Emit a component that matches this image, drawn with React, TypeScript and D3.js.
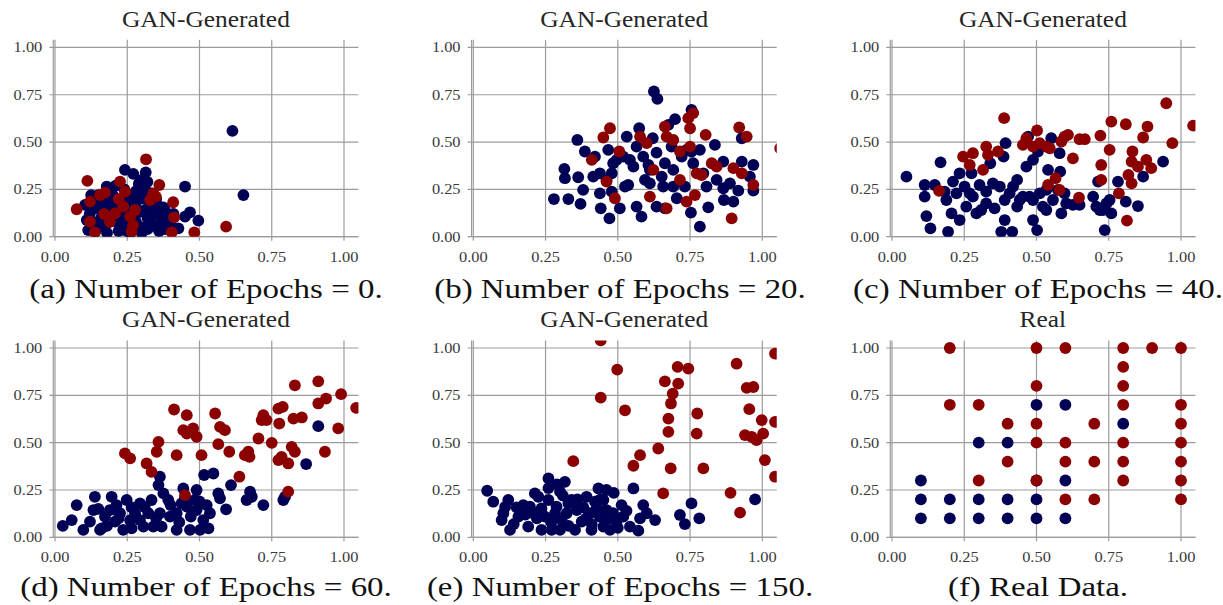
import React from "react";
import * as d3 from "d3";

const W = 1223;
const H = 605;

const titles = ["GAN-Generated", "GAN-Generated", "GAN-Generated", "GAN-Generated", "GAN-Generated", "Real"];
const captions = [
  "(a) Number of Epochs = 0.",
  "(b) Number of Epochs = 20.",
  "(c) Number of Epochs = 40.",
  "(d) Number of Epochs = 60.",
  "(e) Number of Epochs = 150.",
  "(f) Real Data.",
];
const tickValues = [0, 0.25, 0.5, 0.75, 1];
const tickLabels = ["0.00", "0.25", "0.50", "0.75", "1.00"];

type P = [number, number];

// (a) epochs = 0
const aNavy: P[] = [
  [0.614, 0.559], [0.652, 0.22], [0.496, 0.085], [0.467, 0.129], [0.45, 0.106], [0.45, 0.265], [0.427, 0.044],
  [0.375, 0.155], [0.314, 0.34], [0.271, 0.332], [0.242, 0.353], [0.294, 0.286], [0.104, 0.168], [0.11, 0.088],
  [0.115, 0.035], [0.179, 0.265], [0.13, 0.2], [0.14, 0.15], [0.15, 0.22], [0.16, 0.1], [0.17, 0.05], [0.18, 0.25],
  [0.19, 0.18], [0.2, 0.12], [0.21, 0.08], [0.22, 0.03], [0.2, 0.22], [0.23, 0.15], [0.24, 0.2], [0.25, 0.1],
  [0.26, 0.06], [0.27, 0.17], [0.28, 0.24], [0.29, 0.13], [0.3, 0.05], [0.31, 0.2], [0.32, 0.1], [0.33, 0.16],
  [0.34, 0.06], [0.35, 0.12], [0.36, 0.03], [0.37, 0.08], [0.38, 0.14], [0.39, 0.1], [0.29, 0.28], [0.3, 0.25],
  [0.3, 0.02], [0.26, 0.02], [0.18, 0.02], [0.15, 0.06], [0.12, 0.12], [0.17, 0.14], [0.22, 0.19], [0.26, 0.13],
  [0.28, 0.08], [0.32, 0.04], [0.35, 0.2], [0.4, 0.06], [0.41, 0.12], [0.24, 0.25], [0.21, 0.27], [0.19, 0.09],
  [0.23, 0.05], [0.27, 0.21], [0.33, 0.23], [0.36, 0.16], [0.38, 0.04], [0.3, 0.3], [0.31, 0.27], [0.14, 0.03],
  [0.125, 0.22], [0.16, 0.17], [0.16, 0.2], [0.2, 0.16], [0.22, 0.1], [0.25, 0.03], [0.27, 0.12], [0.28, 0.18],
  [0.31, 0.14], [0.33, 0.09], [0.34, 0.13], [0.37, 0.11], [0.18, 0.07], [0.24, 0.08], [0.29, 0.21], [0.19, 0.24],
  [0.13, 0.08], [0.32, 0.29],
];
const aRed: P[] = [
  [0.592, 0.053], [0.482, 0.023], [0.409, 0.182], [0.412, 0.102], [0.404, 0.023], [0.361, 0.273], [0.349, 0.212],
  [0.315, 0.409], [0.225, 0.291], [0.243, 0.238], [0.112, 0.295], [0.075, 0.145], [0.121, 0.185], [0.121, 0.079],
  [0.138, 0.023], [0.173, 0.233], [0.156, 0.22], [0.19, 0.079], [0.208, 0.123], [0.236, 0.159], [0.26, 0.106],
  [0.265, 0.026], [0.277, 0.141], [0.329, 0.194], [0.34, 0.229], [0.22, 0.2], [0.27, 0.06], [0.17, 0.12],
];

// (b) epochs = 20
const bNavy: P[] = [
  [0.279, 0.199], [0.329, 0.199], [0.315, 0.358], [0.317, 0.309], [0.363, 0.314], [0.36, 0.511], [0.371, 0.173],
  [0.38, 0.247], [0.386, 0.45], [0.421, 0.423], [0.441, 0.15], [0.471, 0.097], [0.438, 0.335], [0.461, 0.3],
  [0.479, 0.335], [0.467, 0.459], [0.484, 0.388], [0.438, 0.229], [0.479, 0.238], [0.507, 0.15], [0.531, 0.529],
  [0.542, 0.406], [0.536, 0.273], [0.554, 0.37], [0.565, 0.159], [0.574, 0.573], [0.582, 0.106], [0.588, 0.423],
  [0.594, 0.3], [0.606, 0.379], [0.611, 0.282], [0.621, 0.52], [0.625, 0.767], [0.637, 0.728], [0.634, 0.444],
  [0.634, 0.159], [0.663, 0.15], [0.652, 0.317], [0.663, 0.388], [0.675, 0.591], [0.698, 0.621], [0.686, 0.476],
  [0.692, 0.353], [0.692, 0.265], [0.704, 0.203], [0.721, 0.423], [0.732, 0.265], [0.755, 0.67], [0.755, 0.45],
  [0.753, 0.127], [0.784, 0.053], [0.784, 0.459], [0.796, 0.335], [0.807, 0.265], [0.813, 0.155], [0.836, 0.485],
  [0.842, 0.3], [0.865, 0.397], [0.867, 0.194], [0.888, 0.282], [0.9, 0.185], [0.917, 0.243], [0.929, 0.397],
  [0.929, 0.52], [0.957, 0.317], [0.969, 0.379], [0.969, 0.243], [0.415, 0.317], [0.519, 0.423], [0.565, 0.476],
  [0.611, 0.353], [0.657, 0.265], [0.738, 0.459], [0.761, 0.388], [0.865, 0.256], [0.525, 0.265], [0.496, 0.406],
];
const bRed: P[] = [
  [1.062, 0.467], [0.92, 0.577], [0.946, 0.529], [0.969, 0.273], [0.929, 0.335], [0.9, 0.362], [0.894, 0.097],
  [0.825, 0.388], [0.842, 0.37], [0.804, 0.538], [0.773, 0.335], [0.767, 0.22], [0.738, 0.185], [0.744, 0.626],
  [0.761, 0.653], [0.75, 0.573], [0.75, 0.476], [0.715, 0.45], [0.715, 0.3], [0.692, 0.511], [0.669, 0.529],
  [0.663, 0.582], [0.669, 0.15], [0.611, 0.212], [0.623, 0.353], [0.6, 0.494], [0.577, 0.529], [0.505, 0.45],
  [0.473, 0.573], [0.45, 0.524], [0.41, 0.406], [0.461, 0.291], [0.49, 0.203], [0.79, 0.326],
];

// (c) epochs = 40
const cNavy: P[] = [
  [0.05, 0.317], [0.113, 0.273], [0.113, 0.212], [0.119, 0.109], [0.133, 0.044], [0.148, 0.273], [0.168, 0.393],
  [0.182, 0.238], [0.188, 0.194], [0.194, 0.026], [0.206, 0.123], [0.211, 0.291], [0.223, 0.229], [0.234, 0.335],
  [0.234, 0.088], [0.251, 0.265], [0.257, 0.159], [0.275, 0.335], [0.28, 0.212], [0.292, 0.123], [0.303, 0.273],
  [0.309, 0.141], [0.326, 0.238], [0.34, 0.388], [0.349, 0.282], [0.355, 0.15], [0.373, 0.265], [0.378, 0.026],
  [0.386, 0.423], [0.39, 0.194], [0.393, 0.494], [0.39, 0.088], [0.416, 0.026], [0.419, 0.265], [0.433, 0.3],
  [0.433, 0.159], [0.453, 0.212], [0.465, 0.37], [0.471, 0.529], [0.476, 0.212], [0.488, 0.406], [0.488, 0.088],
  [0.505, 0.45], [0.502, 0.035], [0.511, 0.229], [0.522, 0.159], [0.534, 0.247], [0.54, 0.353], [0.551, 0.52],
  [0.557, 0.194], [0.58, 0.441], [0.582, 0.344], [0.586, 0.123], [0.597, 0.229], [0.603, 0.176], [0.626, 0.168],
  [0.649, 0.168], [0.696, 0.212], [0.713, 0.291], [0.719, 0.141], [0.736, 0.035], [0.742, 0.176], [0.753, 0.194],
  [0.759, 0.123], [0.782, 0.291], [0.809, 0.185], [0.851, 0.162], [0.869, 0.317], [0.938, 0.397], [0.269, 0.229],
  [0.326, 0.176], [0.407, 0.229], [0.442, 0.194], [0.488, 0.194], [0.534, 0.141], [0.574, 0.247], [0.707, 0.159],
  [0.73, 0.141],
];
const cRed: P[] = [
  [0.388, 0.626], [0.502, 0.561], [0.465, 0.52], [0.453, 0.485], [0.488, 0.476], [0.511, 0.494], [0.534, 0.476],
  [0.546, 0.467], [0.586, 0.503], [0.597, 0.529], [0.609, 0.538], [0.649, 0.515], [0.667, 0.515], [0.626, 0.414],
  [0.721, 0.534], [0.724, 0.379], [0.724, 0.3], [0.759, 0.608], [0.753, 0.459], [0.809, 0.594], [0.884, 0.582],
  [0.869, 0.524], [0.832, 0.45], [0.829, 0.397], [0.818, 0.326], [0.829, 0.282], [0.88, 0.406], [0.897, 0.362],
  [0.851, 0.37], [0.785, 0.229], [0.813, 0.085], [0.949, 0.705], [0.97, 0.494], [1.042, 0.587], [0.647, 0.206],
  [0.54, 0.273], [0.566, 0.309], [0.58, 0.247], [0.246, 0.423], [0.28, 0.441], [0.269, 0.379], [0.315, 0.353],
  [0.326, 0.476], [0.332, 0.432], [0.367, 0.45], [0.163, 0.242],
];

// (d) epochs = 60
const dNavy: P[] = [
  [0.911, 0.587], [0.869, 0.387], [0.79, 0.197], [0.796, 0.214], [0.721, 0.17], [0.675, 0.241], [0.681, 0.214],
  [0.663, 0.197], [0.609, 0.276], [0.592, 0.148], [0.571, 0.206], [0.565, 0.232], [0.548, 0.337], [0.516, 0.329],
  [0.536, 0.127], [0.531, 0.047], [0.513, 0.091], [0.49, 0.25], [0.49, 0.144], [0.484, 0.197], [0.467, 0.039],
  [0.444, 0.258], [0.438, 0.179], [0.421, 0.127], [0.421, 0.039], [0.392, 0.197], [0.375, 0.232], [0.363, 0.32],
  [0.358, 0.276], [0.363, 0.127], [0.369, 0.056], [0.334, 0.197], [0.323, 0.127], [0.306, 0.056], [0.294, 0.179],
  [0.277, 0.127], [0.265, 0.047], [0.248, 0.197], [0.236, 0.039], [0.208, 0.083], [0.196, 0.214], [0.19, 0.144],
  [0.173, 0.109], [0.161, 0.047], [0.138, 0.214], [0.133, 0.144], [0.121, 0.083], [0.098, 0.039], [0.075, 0.17],
  [0.058, 0.091], [0.027, 0.06], [0.156, 0.039], [0.225, 0.127], [0.294, 0.091], [0.34, 0.056], [0.398, 0.109],
  [0.456, 0.162], [0.502, 0.039], [0.525, 0.17], [0.213, 0.17], [0.265, 0.158], [0.15, 0.15], [0.18, 0.06],
  [0.22, 0.1], [0.26, 0.09], [0.31, 0.16], [0.35, 0.1], [0.4, 0.17], [0.43, 0.08], [0.47, 0.11], [0.5, 0.19],
  [0.45, 0.21],
];
const dRed: P[] = [
  [0.83, 0.803], [0.911, 0.824], [0.99, 0.756], [0.938, 0.733], [0.911, 0.707], [1.042, 0.684], [0.98, 0.575],
  [0.934, 0.452], [0.854, 0.633], [0.825, 0.627], [0.819, 0.478], [0.83, 0.452], [0.807, 0.39], [0.784, 0.425],
  [0.773, 0.408], [0.807, 0.241], [0.776, 0.601], [0.788, 0.689], [0.773, 0.68], [0.721, 0.645], [0.715, 0.619],
  [0.732, 0.619], [0.704, 0.522], [0.75, 0.499], [0.669, 0.452], [0.657, 0.434], [0.673, 0.425], [0.638, 0.32],
  [0.603, 0.452], [0.588, 0.566], [0.571, 0.583], [0.554, 0.654], [0.565, 0.492], [0.507, 0.434], [0.49, 0.531],
  [0.478, 0.575], [0.456, 0.645], [0.444, 0.566], [0.456, 0.548], [0.412, 0.675], [0.421, 0.434], [0.358, 0.504],
  [0.352, 0.452], [0.317, 0.39], [0.334, 0.346], [0.26, 0.417], [0.242, 0.443], [0.45, 0.223],
];

// (e) epochs = 150
const eNavy: P[] = [
  [0.975, 0.2], [0.755, 0.179], [0.782, 0.1], [0.715, 0.118], [0.732, 0.07], [0.629, 0.091], [0.571, 0.035],
  [0.554, 0.258], [0.588, 0.17], [0.6, 0.127], [0.577, 0.1], [0.542, 0.056], [0.513, 0.17], [0.496, 0.083],
  [0.486, 0.235], [0.473, 0.039], [0.461, 0.25], [0.461, 0.144], [0.438, 0.109], [0.433, 0.258], [0.421, 0.188],
  [0.409, 0.039], [0.404, 0.127], [0.392, 0.214], [0.375, 0.083], [0.358, 0.144], [0.352, 0.039], [0.329, 0.179],
  [0.317, 0.293], [0.306, 0.091], [0.3, 0.241], [0.288, 0.162], [0.271, 0.039], [0.26, 0.311], [0.26, 0.197],
  [0.248, 0.109], [0.225, 0.214], [0.213, 0.232], [0.208, 0.127], [0.19, 0.056], [0.173, 0.17], [0.156, 0.109],
  [0.127, 0.039], [0.121, 0.197], [0.104, 0.127], [0.098, 0.091], [0.069, 0.188], [0.048, 0.246], [0.323, 0.127],
  [0.34, 0.197], [0.381, 0.158], [0.427, 0.153], [0.45, 0.197], [0.484, 0.127], [0.519, 0.109], [0.283, 0.127],
  [0.236, 0.153], [0.196, 0.162], [0.15, 0.158], [0.3, 0.039], [0.236, 0.039], [0.45, 0.056], [0.22, 0.1],
  [0.27, 0.08], [0.31, 0.22], [0.33, 0.06], [0.36, 0.2], [0.39, 0.1], [0.41, 0.07], [0.44, 0.2], [0.47, 0.1],
  [0.5, 0.05], [0.53, 0.14], [0.18, 0.12], [0.14, 0.07], [0.11, 0.16], [0.26, 0.26], [0.29, 0.28],
];
const eRed: P[] = [
  [0.441, 1.04], [0.498, 0.886], [0.441, 0.738], [0.525, 0.671], [0.346, 0.402], [0.554, 0.378], [0.577, 0.434],
  [0.64, 0.469], [0.663, 0.824], [0.657, 0.232], [0.675, 0.627], [0.675, 0.557], [0.684, 0.707], [0.69, 0.759],
  [0.683, 0.364], [0.707, 0.9], [0.709, 0.812], [0.744, 0.891], [0.775, 0.654], [0.773, 0.548], [0.796, 0.364],
  [0.89, 0.235], [0.911, 0.917], [0.923, 0.13], [0.946, 0.789], [0.969, 0.794], [0.955, 0.677], [0.94, 0.54],
  [0.963, 0.531], [0.98, 0.513], [0.998, 0.619], [1.003, 0.548], [1.009, 0.408], [1.044, 0.97], [1.044, 0.61],
  [1.044, 0.32],
];

// (f) real data
const fNavy: P[] = [
  [0.5, 0.7], [0.6, 0.7], [0.8, 0.6], [0.3, 0.5], [0.4, 0.5], [0.1, 0.3], [0.5, 0.3], [0.6, 0.3],
  [0.1, 0.2], [0.2, 0.2], [0.3, 0.2], [0.4, 0.2], [0.5, 0.2],
  [0.1, 0.1], [0.2, 0.1], [0.3, 0.1], [0.4, 0.1], [0.5, 0.1], [0.6, 0.1],
];
const fRed: P[] = [
  [0.2, 1.0], [0.5, 1.0], [0.6, 1.0], [0.8, 1.0], [0.9, 1.0], [1.0, 1.0],
  [0.8, 0.9], [0.5, 0.8], [0.8, 0.8],
  [0.2, 0.7], [0.3, 0.7], [0.8, 0.7], [1.0, 0.7],
  [0.4, 0.6], [0.5, 0.6], [0.7, 0.6], [1.0, 0.6],
  [0.5, 0.5], [0.6, 0.5], [0.8, 0.5], [1.0, 0.5],
  [0.4, 0.4], [0.6, 0.4], [0.7, 0.4], [0.8, 0.4], [1.0, 0.4],
  [0.3, 0.3], [0.5, 0.3], [0.8, 0.3], [1.0, 0.3],
  [0.6, 0.2], [0.7, 0.2], [1.0, 0.2],
];

const panelNavy = [aNavy, bNavy, cNavy, dNavy, eNavy, fNavy];
const panelRed = [aRed, bRed, cRed, dRed, eRed, fRed];

const NAVY = "#000055";
const RED = "#8b0000";
const GRID = "#9c9c9c";
const TICK_TEXT = "#3a3a3a";
const SERIF = "'Liberation Serif', 'Times New Roman', serif";

const colX0 = [55, 473.3, 892];
const rowY0 = [236.7, 537.3];
const captionX = [206, 620, 1038];
const captionY = [298, 595.5];
const UNIT_X = 289;
const UNIT_Y = 189.3;
const R = 5.9;

function Panel({ i }: { i: number }) {
  const col = i % 3;
  const row = Math.floor(i / 3);
  const x = d3.scaleLinear().domain([0, 1]).range([colX0[col], colX0[col] + UNIT_X]);
  const y = d3.scaleLinear().domain([0, 1]).range([rowY0[row], rowY0[row] - UNIT_Y]);
  const left = x(-0.006);
  const right = x(1.05);
  const top = y(1.04);
  const bottom = y(0);
  const cx = (left + right) / 2;
  const clipId = `clip-${i}`;
  return (
    <g>
      <defs>
        <clipPath id={clipId}>
          <rect x={left} y={top} width={right - left} height={bottom - top} />
        </clipPath>
      </defs>
      {tickValues.map((t) => (
        <line key={`gx${t}`} x1={x(t)} x2={x(t)} y1={top} y2={bottom + 4} stroke={GRID} strokeWidth={1.2} />
      ))}
      {tickValues.map((t) => (
        <line key={`gy${t}`} x1={left - 4} x2={right} y1={y(t)} y2={y(t)} stroke={GRID} strokeWidth={1.2} />
      ))}
      <line x1={left} x2={left} y1={top} y2={bottom} stroke={GRID} strokeWidth={1.2} />
      <line x1={left} x2={right} y1={bottom} y2={bottom} stroke={GRID} strokeWidth={1.2} />
      <g clipPath={`url(#${clipId})`}>
        {panelNavy[i].map((p, k) => (
          <circle key={`n${k}`} cx={x(p[0])} cy={y(p[1])} r={R} fill={NAVY} />
        ))}
        {panelRed[i].map((p, k) => (
          <circle key={`r${k}`} cx={x(p[0])} cy={y(p[1])} r={R} fill={RED} />
        ))}
      </g>
      {tickValues.map((t, k) => (
        <text
          key={`tx${t}`}
          transform={`translate(${x(t)},${bottom + 25}) scale(1.13,1)`}
          textAnchor="middle"
          fontFamily={SERIF}
          fontSize={14.5}
          fill={TICK_TEXT}
        >
          {tickLabels[k]}
        </text>
      ))}
      {tickValues.map((t, k) => (
        <text
          key={`ty${t}`}
          transform={`translate(${left - 11},${y(t) + 5}) scale(1.13,1)`}
          textAnchor="end"
          fontFamily={SERIF}
          fontSize={14.5}
          fill={TICK_TEXT}
        >
          {tickLabels[k]}
        </text>
      ))}
      <text
        transform={`translate(${cx},${rowY0[row] - 210}) scale(1.13,1)`}
        textAnchor="middle"
        fontFamily={SERIF}
        fontSize={22.5}
        fill="#262626"
      >
        {titles[i]}
      </text>
      <text
        transform={`translate(${captionX[col]},${captionY[row]}) scale(1.22,1)`}
        textAnchor="middle"
        fontFamily={SERIF}
        fontSize={27}
        fill="#111"
      >
        {captions[i]}
      </text>
    </g>
  );
}

export default function App() {
  return (
    <svg
      width={W}
      height={H}
      viewBox={`0 0 ${W} ${H}`}
      style={{ position: "absolute", left: 0, top: 0, background: "#fff" }}
    >
      <rect x={0} y={0} width={W} height={H} fill="#fff" />
      {[0, 1, 2, 3, 4, 5].map((i) => (
        <Panel key={i} i={i} />
      ))}
    </svg>
  );
}
